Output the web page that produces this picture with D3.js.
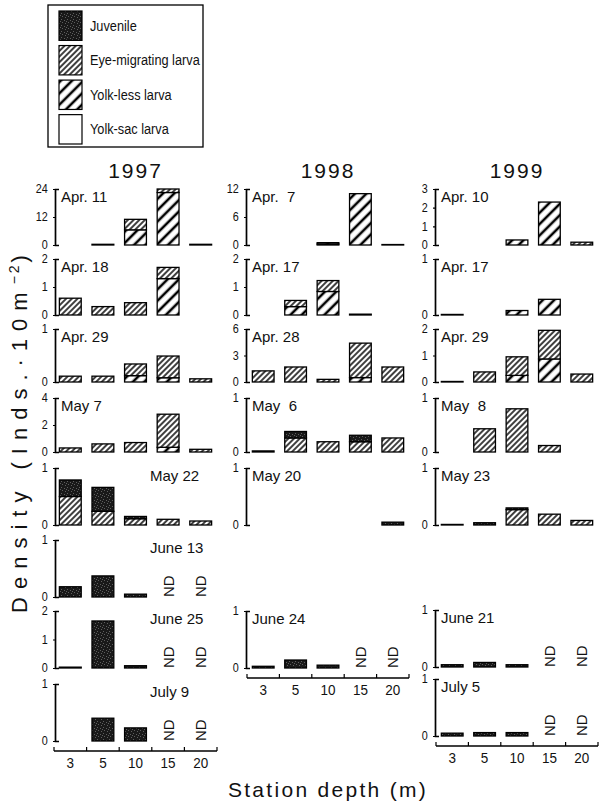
<!DOCTYPE html>
<html><head><meta charset="utf-8">
<script src="https://cdn.jsdelivr.net/npm/d3@7/dist/d3.min.js"></script>
<style>
body{margin:0;background:#fff}
text{font-family:"Liberation Sans",Arial,sans-serif;fill:#111}
</style></head><body>
<svg id="c" width="599" height="808"></svg>
<script>
// ---------------- DATA ----------------
const depths = ["3","5","10","15","20"];
const years = ["1997","1998","1999"];
const stackOrder = ["yolkSac","yolkLess","eyeMigrating","juvenile"]; // bottom -> top
const legendNames = ["Juvenile","Eye-migrating larva","Yolk-less larva","Yolk-sac larva"];

const panelYear = ["1997","1997","1997","1997","1997","1997","1997","1997",
                   "1998","1998","1998","1998","1998","1998",
                   "1999","1999","1999","1999","1999","1999","1999"];
const panelDate = ["Apr. 11","Apr. 18","Apr. 29","May 7","May 22","June 13","June 25","July 9",
                   "Apr.  7","Apr. 17","Apr. 28","May  6","May 20","June 24",
                   "Apr. 10","Apr. 17","Apr. 29","May  8","May 23","June 21","July 5"];
const panelMax = [24,2,1,4,1,1,2,1, 12,2,6,1,1,1, 3,1,2,1,1,1,1];
const panelTicks = [[0,12,24],[0,1,2],[0,1],[0,2,4],[0,1],[0,1],[0,1,2],[0,1],
                    [0,6,12],[0,1,2],[0,3,6],[0,1],[0,1],[0,1],
                    [0,1,2,3],[0,1],[0,1,2],[0,1],[0,1],[0,1],[0,1]];
// null = ND (no data)
const juvenile = [
  [0,0,0,0,0],[0,0,0,0,0],[0,0,0,0,0],[0,0,0,0,0],
  [0.29,0.42,0.04,0,0],[0.18,0.37,0.05,null,null],[0.03,1.65,0.08,null,null],[0,0.4,0.23,null,null],
  [0,0,0,0,0],[0,0,0,0,0],[0,0,0,0,0],[0.02,0.12,0,0.12,0],[0,0,0,0,0.05],[0.03,0.14,0.05,null,null],
  [0,0,0,0,0],[0,0,0,0,0],[0,0,0,0,0],[0,0,0,0,0],[0,0.04,0.03,0,0],[0.04,0.08,0.04,null,null],[0.05,0.06,0.06,null,null]];
const eyeMigrating = [
  [0,0.3,4.5,1.5,0.3],[0.6,0.3,0.44,0.4,0],[0.11,0.11,0.22,0.41,0.06],[0.3,0.6,0.7,2.45,0.2],
  [0.5,0.24,0.11,0.1,0.07],[0,0,0,null,null],[0,0,0,null,null],[0,0,0,null,null],
  [0,0,0,0,0.1],[0,0.22,0.39,0.03,0],[1.26,1.7,0.3,3.9,1.7],[0,0.26,0.19,0.19,0.26],[0,0,0,0,0],[0,0,0,null,null],
  [0,0,0,0,0.15],[0.01,0,0,0,0],[0.02,0.38,0.7,1.08,0.3],[0,0.43,0.8,0.12,0],[0.01,0,0.27,0.19,0.08],[0,0,0,null,null],[0,0,0,null,null]];
const yolkLess = [
  [0,0,6.5,22.5,0],[0,0,0,1.3,0],[0,0,0.12,0.08,0],[0,0,0,0.35,0],
  [0,0,0,0,0],[0,0,0,null,null],[0,0,0,null,null],[0,0,0,null,null],
  [0,0,0.3,11,0],[0,0.3,0.84,0,0],[0,0,0,0.5,0],[0,0,0,0,0],[0,0,0,0,0],[0,0,0,null,null],
  [0,0,0.27,2.3,0],[0,0,0.08,0.28,0],[0,0,0.25,0.87,0],[0,0,0,0,0],[0,0,0,0,0],[0,0,0,null,null],[0,0,0,null,null]];
const yolkSac = [
  [0,0,0,0,0],[0,0,0,0,0],[0,0,0,0,0],[0,0,0,0,0],
  [0,0,0,0,0],[0,0,0,null,null],[0,0,0,null,null],[0,0,0,null,null],
  [0,0,0.2,0,0],[0,0,0,0,0],[0,0,0,0,0],[0,0,0,0,0],[0,0,0,0,0],[0,0,0,null,null],
  [0,0,0,0,0],[0,0,0,0,0],[0,0,0,0,0],[0,0,0,0,0],[0,0,0,0,0],[0,0,0,null,null],[0,0,0,null,null]];
const seriesData = {juvenile, eyeMigrating, yolkLess, yolkSac};

// ---------------- LAYOUT ----------------
const svg = d3.select("#c");
const colRange = {"1997":[54,217], "1998":[247,409], "1999":[436,598]};
const rowBase = [245,315,382,452,525,597,668,741];
const rowTop  = [189,259,329,398,468,540,611,684];
const panelRow = [0,1,2,3,4,5,6,7, 0,1,2,3,4,6, 0,1,2,3,4,6,7];
const panelShift = [0,0,0,0,0,0,0,0, 0,0,0,0,0,0, 0,0,0,0,0,-1,-5];
const rightDate = [false,false,false,false,true,true,true,true, false,false,false,false,false,false, false,false,false,false,false,false,false];

// patterns
const defs = svg.append("defs");
function hatch(id, size, sw){
  const p = defs.append("pattern").attr("id",id).attr("patternUnits","userSpaceOnUse")
    .attr("width",size).attr("height",size).attr("patternTransform","rotate(45)");
  p.append("rect").attr("width",size).attr("height",size).attr("fill","#fff");
  p.append("line").attr("x1",size/2).attr("x2",size/2).attr("y1",0).attr("y2",size)
    .attr("stroke","#000").attr("stroke-width",sw);
}
hatch("pEye", 4, 1.5);
hatch("pLess", 8, 2.6);
{
  const p = defs.append("pattern").attr("id","pJuv").attr("patternUnits","userSpaceOnUse")
    .attr("width",6).attr("height",6);
  p.append("rect").attr("width",6).attr("height",6).attr("fill","#191919");
  [[1,1],[4,2],[2,4],[5,5],[0,3]].forEach(([x,y])=>p.append("rect").attr("x",x).attr("y",y)
    .attr("width",1).attr("height",1).attr("fill","#5e5e5e"));
}
const fills = {juvenile:"url(#pJuv)", eyeMigrating:"url(#pEye)", yolkLess:"url(#pLess)", yolkSac:"#fff"};

const xScale = {};
years.forEach(yr => {
  xScale[yr] = d3.scaleBand().domain(depths).range(colRange[yr]).paddingInner(0.33).paddingOuter(0.165);
});

panelYear.forEach((yr, i) => {
  const r = panelRow[i];
  const base = rowBase[r] + panelShift[i], top = rowTop[r] + panelShift[i];
  const x = xScale[yr];
  const y = d3.scaleLinear().domain([0, panelMax[i]]).range([base, top]);
  const axX = colRange[yr][0] + (yr==="1997" ? 1 : -1);
  const g = svg.append("g");

  depths.forEach((dp, j) => {
    if (juvenile[i][j] === null) {
      g.append("text").attr("transform", `translate(${x(dp)+x.bandwidth()/2},${base})rotate(-90)`)
        .attr("dominant-baseline","central").attr("font-size",15).text("ND");
      return;
    }
    let acc = 0;
    stackOrder.forEach(s => {
      const v = seriesData[s][i][j];
      if (v > 0) {
        g.append("rect").attr("x", x(dp)).attr("width", x.bandwidth())
          .attr("y", y(acc+v)).attr("height", y(acc)-y(acc+v))
          .attr("fill", fills[s]).attr("stroke","#000").attr("stroke-width",1.3);
      }
      acc += (v || 0);
    });
  });

  const ax = g.append("g").attr("transform",`translate(${axX},0)`)
    .call(d3.axisLeft(y).tickValues(panelTicks[i]).tickFormat(d3.format("d"))
      .tickSizeInner(2).tickSizeOuter(-4).tickPadding(6));
  ax.select(".domain").attr("stroke","#000").attr("stroke-width",1.7);
  ax.selectAll(".tick line").attr("stroke","#000").attr("stroke-width",1.2);
  ax.selectAll(".tick text").attr("font-size",12).attr("fill","#111")
    .attr("transform","scale(0.9,1)");

  g.append("text").attr("x", rightDate[i] ? 150 : axX+6).attr("y", top+13)
    .attr("font-size",15).style("white-space","pre").text(panelDate[i]);
});

years.forEach(yr => {
  const idx = panelYear.map((p,k)=>p===yr?k:-1).filter(k=>k>=0);
  const last = idx[idx.length-1];
  const yAx = rowBase[panelRow[last]] + panelShift[last] + 10;
  const x = xScale[yr];
  const g = svg.append("g").attr("transform",`translate(0,${yAx})`);
  const edges = [...depths.map(d=>x(d)-x.step()*x.paddingInner()/2), colRange[yr][1]];
  g.append("path").attr("d", `M${colRange[yr][0]},0H${colRange[yr][1]}`).attr("stroke","#000").attr("stroke-width",1.4).attr("fill","none");
  g.selectAll("line.edge").data(edges).join("line").attr("class","edge")
    .attr("x1",d=>d).attr("x2",d=>d).attr("y1",0).attr("y2",-4).attr("stroke","#000").attr("stroke-width",1.2);
  g.selectAll("text.lab").data(depths).join("text").attr("class","lab")
    .attr("transform", d=>`translate(${x(d)+x.bandwidth()/2},17)scale(0.9,1)`).attr("text-anchor","middle")
    .attr("font-size",15).text(d=>d);
});

years.forEach(yr => {
  svg.append("text").attr("x",(colRange[yr][0]+colRange[yr][1])/2).attr("y",178)
    .attr("text-anchor","middle").attr("font-size",21).attr("letter-spacing",2).text(yr);
});

svg.append("text").attr("x",328).attr("y",797).attr("text-anchor","middle")
  .attr("font-size",21).attr("letter-spacing",2.3).text("Station depth (m)");
const yt = svg.append("text").attr("transform","translate(27,430)rotate(-90)")
  .attr("text-anchor","middle").attr("font-size",22).attr("letter-spacing",8);
yt.append("tspan").text("Density (Inds.·10m");
yt.append("tspan").attr("baseline-shift","super").attr("font-size",14).attr("letter-spacing",3).text("−2");
yt.append("tspan").text(")");

const lg = svg.append("g");
lg.append("rect").attr("x",48).attr("y",5).attr("width",155).attr("height",142)
  .attr("fill","#fff").attr("stroke","#000").attr("stroke-width",1.3);
const legKeys = ["juvenile","eyeMigrating","yolkLess","yolkSac"];
const ly = d3.scaleBand().domain(legendNames).range([11,144]).paddingInner(0.15);
legendNames.forEach((n,k)=>{
  lg.append("rect").attr("x",59).attr("y",ly(n)).attr("width",23).attr("height",ly.bandwidth())
    .attr("fill",fills[legKeys[k]]).attr("stroke","#000").attr("stroke-width",1.2);
  lg.append("text").attr("transform",`translate(90,${ly(n)+ly.bandwidth()/2+5})scale(0.85,1)`)
    .attr("font-size",15).text(n);
});
</script>
</body></html>
